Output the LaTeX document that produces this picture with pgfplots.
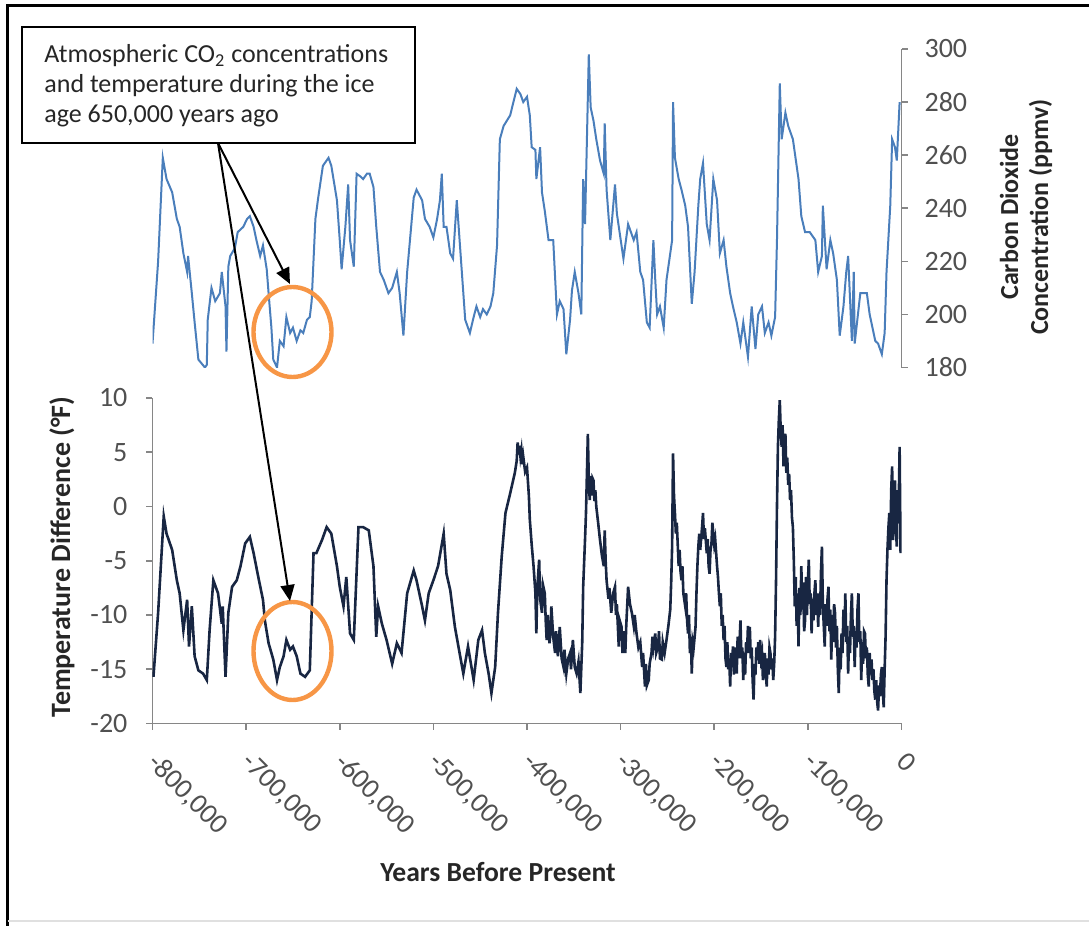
\documentclass[border=0pt]{standalone}
\usepackage{pgfplots}
\pgfplotsset{compat=1.18}
\usepackage{fontspec}
\setmainfont{Carlito}
\usetikzlibrary{arrows.meta}

\definecolor{co2blue}{RGB}{74,126,187}
\definecolor{tempnavy}{RGB}{24,38,66}
\definecolor{ringorange}{RGB}{247,150,70}
\definecolor{axisgray}{RGB}{134,134,134}
\definecolor{labelgray}{RGB}{80,80,80}

\pgfplotsset{
  icecore/.style={
    scale only axis, width=374.5pt, xmin=-800, xmax=0,
    axis line style={axisgray, line width=0.8pt},
    tick style={axisgray, line width=0.8pt},
    tick align=outside, major tick length=3pt,
    /pgf/number format/assume math mode=true,
    ticklabel style={font=\fontsize{14}{16}\selectfont, text=labelgray},
  }
}

\begin{document}
\begin{tikzpicture}
\useasboundingbox (0,0) rectangle (544.5pt,-463pt);

% CO2 panel (top, right axis)
\begin{axis}[icecore,
  at={(76.25pt,-183.75pt)}, anchor=south west, height=159.25pt,
  ymin=180, ymax=300,
  axis x line=none, axis y line*=right,
  ytick={180,200,...,300},
  yticklabel style={xshift=5pt},
]
\addplot[co2blue, line width=1pt] coordinates {
(-800,189)(-794,220)(-789,259)(-785,251)(-779,246)(-774,236)(-771,233)(-767,223)(-763,216)(-762,222)
(-758,208)(-755,197)(-751,183)(-744,180)(-742,181)(-741,198)(-737,210)(-733,205)(-728,208)(-726,216)
(-722,203)(-721,186)(-719,218)(-717,222)(-712,225)(-709,231)(-703,233)(-699,236)(-696,237)(-692,233)
(-689,228)(-685,222)(-682,226)(-678,217)(-676,208)(-673,195)(-671,183)(-667,180)(-664,190)(-660,188)
(-657,199)(-653,193)(-650,195)(-646,190)(-642,194)(-639,193)(-635,198)(-632,199)(-630,205)(-626,236)
(-623,244)(-618,256)(-612,259)(-609,256)(-603,243)(-600,228)(-598,217)(-594,233)(-591,249)(-589,228)
(-585,218)(-582,253)(-578,252)(-575,251)(-571,253)(-568,253)(-564,248)(-561,233)(-557,216)(-553,213)
(-548,208)(-544,210)(-539,216)(-536,208)(-532,192)(-528,216)(-525,228)(-521,244)(-518,247)(-512,243)
(-509,236)(-504,233)(-500,229)(-496,236)(-493,243)(-491,253)(-489,233)(-486,233)(-482,223)(-479,221)
(-475,243)(-472,228)(-468,208)(-466,198)(-461,193)(-457,199)(-454,203)(-450,199)(-447,202)(-443,200)
(-439,203)(-436,208)(-432,226)(-429,266)(-425,271)(-418,275)(-411,285)(-407,283)(-404,280)(-400,282)
(-397,275)(-395,263)(-391,262)(-390,251)(-386,263)(-384,246)(-381,239)(-377,228)(-372,228)(-368,200)
(-365,205)(-361,202)(-358,185)(-354,198)(-352,209)(-349,216)(-345,208)(-342,200)(-340,251)(-338,234)
(-336,266)(-334,298)(-332,278)(-329,273)(-326,266)(-322,258)(-318,253)(-317,272)(-315,247)(-311,228)
(-306,249)(-304,238)(-297,221)(-292,234)(-286,228)(-283,231)(-279,216)(-276,213)(-272,197)(-269,195)
(-265,228)(-263,213)(-261,200)(-258,203)(-254,195)(-251,213)(-249,218)(-245,228)(-244,280)(-242,259)
(-238,251)(-235,247)(-231,241)(-228,233)(-224,204)(-221,216)(-217,241)(-215,251)(-212,257)(-208,234)
(-205,228)(-201,251)(-197,243)(-194,223)(-190,228)(-187,218)(-183,208)(-180,203)(-176,197)(-172,189)
(-169,197)(-164,184)(-160,203)(-156,187)(-153,200)(-149,203)(-146,193)(-142,197)(-139,192)(-135,199)
(-133,228)(-130,287)(-128,266)(-124,276)(-121,271)(-116,266)(-110,251)(-107,237)(-103,231)(-98,231)
(-92,228)(-89,216)(-85,222)(-84,241)(-80,217)(-76,228)(-73,223)(-69,213)(-66,192)(-62,203)
(-59,216)(-57,222)(-53,190)(-51,216)(-50,189)(-44,208)(-37,208)(-34,200)(-28,190)(-25,189)
(-21,185)(-18,193)(-16,216)(-12,241)(-10,266)(-7,263)(-5,258)(-2,280)
};
\end{axis}

% Temperature panel (bottom, left axis)
\begin{axis}[icecore,
  at={(76.25pt,-361.75pt)}, anchor=south west, height=162.75pt,
  ymin=-20, ymax=10,
  axis x line*=bottom, axis y line*=left,
  xtick={-800,-700,...,0},
  xticklabels={{-800,000},{-700,000},{-600,000},{-500,000},{-400,000},{-300,000},{-200,000},{-100,000},0},
  xticklabel style={rotate=-45, anchor=north west, xshift=6.5pt, yshift=-1.5pt},
  ytick={-20,-15,...,10},
  yticklabel style={xshift=-6pt},
]
\addplot[tempnavy, line width=1.3pt] coordinates {
(-799,-15.7)(-794,-9.8)(-788,-0.9)(-785,-2.5)(-779,-4.0)(-774,-6.8)(-771,-8.0)(-767,-11.4)(-763,-8.6)(-761,-12.9)
(-758,-9.2)(-755,-13.8)(-751,-15.1)(-746,-15.4)(-742,-16.0)(-739,-11.4)(-735,-6.8)(-730,-8.0)(-726,-10.8)(-725,-9.2)
(-722,-15.7)(-719,-9.8)(-715,-7.4)(-710,-6.8)(-706,-5.5)(-701,-3.4)(-696,-2.8)(-692,-4.3)(-687,-6.5)(-682,-8.6)
(-680,-10.5)(-676,-12.6)(-671,-14.1)(-667,-16.0)(-664,-14.8)(-660,-13.8)(-657,-12.3)(-653,-13.2)(-650,-12.9)(-646,-13.8)
(-642,-15.4)(-637,-15.7)(-632,-15.1)(-628,-4.3)(-625,-4.3)(-619,-3.1)(-614,-1.9)(-609,-2.5)(-603,-5.5)(-600,-7.4)
(-596,-9.2)(-593,-6.5)(-589,-11.7)(-585,-12.3)(-580,-1.9)(-575,-1.9)(-569,-2.2)(-564,-5.5)(-561,-12.0)(-559,-9.2)
(-555,-10.8)(-550,-12.3)(-544,-14.5)(-539,-12.6)(-534,-13.5)(-528,-8.0)(-521,-5.9)(-518,-6.8)(-512,-9.2)(-509,-10.5)
(-505,-8.0)(-500,-6.8)(-495,-5.5)(-489,-2.5)(-486,-6.2)(-482,-7.7)(-477,-11.1)(-472,-13.5)(-468,-15.4)(-463,-12.9)
(-457,-16.0)(-452,-12.3)(-448,-11.4)(-445,-13.5)(-441,-15.4)(-438,-17.2)(-434,-14.8)(-431,-9.8)(-427,-4.6)(-423,-0.6)
(-418,1.2)(-413,3.1)(-411,4.2)(-410,5.9)(-409,4.8)(-408,5.6)(-407,4.6)(-406,5.2)(-405,3.9)(-404,4.6)
(-402,3.2)(-400,3.6)(-398,1.0)(-397,-1.2)(-395,-3.5)(-393,-5.5)(-391,-8.0)(-390,-11.7)(-389,-7.5)(-387,-4.9)
(-386,-8.5)(-384,-9.8)(-383,-7.2)(-381,-8.0)(-380,-10.5)(-379,-12.3)(-378,-10.0)(-376,-12.6)(-375,-11.7)(-374,-9.2)
(-372,-12.0)(-370,-13.5)(-369,-11.5)(-367,-13.8)(-365,-11.1)(-363,-14.0)(-361,-14.8)(-360,-13.2)(-358,-15.4)(-356,-14.0)
(-354,-13.5)(-353,-15.0)(-351,-12.3)(-349,-14.8)(-347,-15.4)(-345,-14.3)(-343,-17.2)(-341,-12.5)(-340,-7.4)(-338,-3.0)
(-337,-0.6)(-336,3.0)(-335,6.7)(-334,2.5)(-333,0.6)(-332,2.8)(-331,1.0)(-330,2.6)(-329,2.4)(-328,0.5)
(-327,1.5)(-326,0.0)(-324,-1.5)(-322,-3.1)(-320,-4.5)(-318,-5.5)(-317,-2.2)(-316,-5.0)(-315,-6.8)(-313,-8.5)
(-312,-7.5)(-310,-9.8)(-308,-8.0)(-306,-7.4)(-305,-10.0)(-304,-9.0)(-302,-12.9)(-301,-10.5)(-299,-11.1)(-298,-13.5)
(-297,-11.5)(-295,-13.5)(-294,-11.0)(-292,-7.4)(-290,-9.0)(-288,-9.8)(-286,-11.0)(-285,-10.0)(-283,-11.7)(-281,-13.0)
(-279,-12.5)(-277,-14.8)(-276,-13.5)(-274,-16.6)(-273,-14.5)(-272,-16.5)(-270,-16.0)(-269,-14.5)(-267,-13.5)(-266,-12.0)
(-265,-13.0)(-263,-11.7)(-262,-13.5)(-260,-12.9)(-259,-11.5)(-258,-14.0)(-256,-14.1)(-255,-12.5)(-253,-13.5)(-251,-12.3)
(-249,-11.0)(-247,-9.5)(-246,-7.0)(-245,-3.7)(-244,4.9)(-243,1.0)(-242,-0.6)(-241,-2.5)(-240,-1.5)(-238,-5.5)
(-237,-4.0)(-236,-6.0)(-235,-6.8)(-234,-5.5)(-233,-8.0)(-231,-9.2)(-230,-8.0)(-229,-10.5)(-228,-11.7)(-227,-10.0)
(-226,-13.5)(-225,-12.0)(-224,-15.4)(-223,-12.5)(-222,-13.0)(-220,-11.1)(-219,-8.0)(-218,-5.5)(-217,-3.7)(-216,-2.5)
(-215,-4.0)(-213,-1.9)(-212,-0.6)(-211,-3.0)(-210,-2.0)(-208,-4.3)(-207,-3.0)(-206,-5.5)(-205,-6.2)(-204,-4.0)
(-203,-3.5)(-202,-1.5)(-201,-2.5)(-200,-3.5)(-199,-3.0)(-197,-5.5)(-196,-6.5)(-195,-8.0)(-194,-9.2)(-193,-8.0)
(-192,-11.0)(-191,-10.0)(-190,-12.3)(-189,-11.0)(-188,-14.0)(-187,-14.8)(-186,-12.5)(-185,-15.0)(-184,-14.0)(-183,-16.6)
(-182,-13.5)(-181,-14.5)(-180,-12.9)(-179,-15.5)(-178,-13.0)(-177,-14.5)(-176,-15.4)(-175,-12.0)(-174,-14.0)(-173,-12.5)
(-172,-10.5)(-171,-14.0)(-170,-13.0)(-169,-16.0)(-168,-13.5)(-167,-15.5)(-166,-12.5)(-165,-13.5)(-164,-11.0)(-163,-13.5)
(-162,-11.1)(-161,-14.0)(-160,-13.0)(-159,-16.0)(-158,-17.8)(-157,-14.5)(-156,-15.5)(-155,-13.0)(-154,-14.1)(-153,-12.5)
(-152,-14.5)(-151,-12.3)(-150,-14.0)(-149,-13.5)(-148,-16.0)(-147,-15.4)(-146,-13.5)(-145,-15.0)(-144,-16.6)(-143,-14.0)
(-142,-15.5)(-141,-13.0)(-140,-13.5)(-139,-15.0)(-138,-14.0)(-137,-16.0)(-136,-14.5)(-135,-12.0)(-134,-6.8)(-133,0.0)
(-132,5.5)(-131,8.0)(-130,9.8)(-129,7.0)(-128,5.5)(-127,7.5)(-126,3.7)(-125,6.0)(-124,6.7)(-123,3.1)
(-122,4.5)(-121,2.0)(-120,3.0)(-119,0.6)(-118,1.5)(-117,-1.0)(-116,-1.9)(-115,-5.0)(-114,-9.2)(-113,-6.5)
(-112,-11.0)(-111,-8.0)(-110,-12.9)(-109,-7.5)(-108,-10.0)(-107,-5.5)(-106,-9.5)(-105,-7.0)(-104,-11.5)(-103,-10.5)
(-102,-6.5)(-101,-10.0)(-100,-7.0)(-99,-4.9)(-98,-9.0)(-97,-8.0)(-96,-11.7)(-95,-8.5)(-94,-10.5)(-93,-8.0)
(-92,-6.8)(-91,-10.0)(-90,-8.0)(-89,-11.1)(-88,-8.0)(-87,-10.0)(-86,-6.0)(-85,-3.7)(-84,-9.0)(-83,-11.0)
(-82,-12.9)(-81,-9.0)(-80,-11.0)(-79,-8.5)(-78,-7.4)(-77,-11.5)(-76,-9.5)(-75,-14.1)(-74,-10.0)(-73,-12.5)
(-72,-9.0)(-71,-9.8)(-70,-13.0)(-69,-11.0)(-68,-15.0)(-67,-17.2)(-66,-13.0)(-65,-15.0)(-64,-11.7)(-63,-13.5)
(-62,-9.5)(-61,-12.0)(-60,-8.0)(-59,-12.5)(-58,-11.0)(-57,-15.4)(-56,-12.0)(-55,-13.5)(-54,-10.0)(-53,-8.0)
(-52,-12.0)(-51,-11.0)(-50,-14.8)(-49,-11.5)(-48,-13.0)(-47,-9.5)(-46,-8.0)(-45,-12.5)(-44,-11.5)(-43,-16.0)
(-42,-12.5)(-41,-14.5)(-40,-11.5)(-39,-11.7)(-38,-14.0)(-37,-13.0)(-36,-15.5)(-35,-16.6)(-34,-13.5)(-33,-15.5)
(-32,-14.1)(-31,-16.0)(-30,-15.0)(-29,-17.0)(-28,-17.8)(-27,-16.0)(-26,-18.0)(-25,-18.8)(-24,-16.5)(-23,-17.5)
(-22,-15.5)(-21,-14.8)(-20,-17.0)(-19,-18.5)(-18,-15.0)(-17,-12.0)(-16,-6.8)(-15,-4.0)(-14,-2.0)(-13,-0.6)
(-12,-4.0)(-11,1.5)(-10,3.7)(-9,-3.1)(-8,1.0)(-7,2.4)(-6,-2.0)(-5,-3.7)(-4,1.5)(-3,0.0)
(-2,5.5)(-1,-4.3)
};
\end{axis}

% frame, rings, callout and titles (pixel grid of the reference)
\begin{scope}[x=0.5pt,y=-0.5pt]
  \draw[line width=1.5pt] (7.5,926) -- (7.5,5.5) -- (1089,5.5);
  \draw[black!12, line width=0.8pt] (7.5,921) -- (1089,921);
  \draw[ringorange, line width=2.2pt] (292.5,332) ellipse [x radius=19.5pt, y radius=22.5pt];
  \draw[ringorange, line width=2.2pt] (292.5,651) ellipse [x radius=19.5pt, y radius=24.5pt];
  \draw[line width=1pt, -{Triangle[length=8pt,width=7pt]}] (218,143) -- (290,284);
  \draw[line width=1pt, -{Triangle[length=8pt,width=7pt]}] (218,143) -- (290,601);
  \draw[line width=1pt, fill=white] (21.7,26.7) rectangle (415,143.3);
  \node[anchor=north west, align=left, inner sep=0pt, text=black!85,
        font=\fontsize{13}{15}\selectfont] at (44,44)
    {Atmospheric CO\textsubscript{2} concentrations\\and temperature during the ice\\age 650,000 years ago};
  \node[text=black!85, font=\bfseries\fontsize{13.8}{16}\selectfont] at (498,872) {Years Before Present};
  \node[rotate=90, text=black!85, font=\bfseries\fontsize{14}{16}\selectfont] at (62,557)
    {Temperature Difference (°F)};
  \node[rotate=90, align=center, text=black!85, font=\bfseries\fontsize{13}{15}\selectfont] at (1026,217)
    {Carbon Dioxide\\Concentration (ppmv)};
\end{scope}
\end{tikzpicture}
\end{document}
